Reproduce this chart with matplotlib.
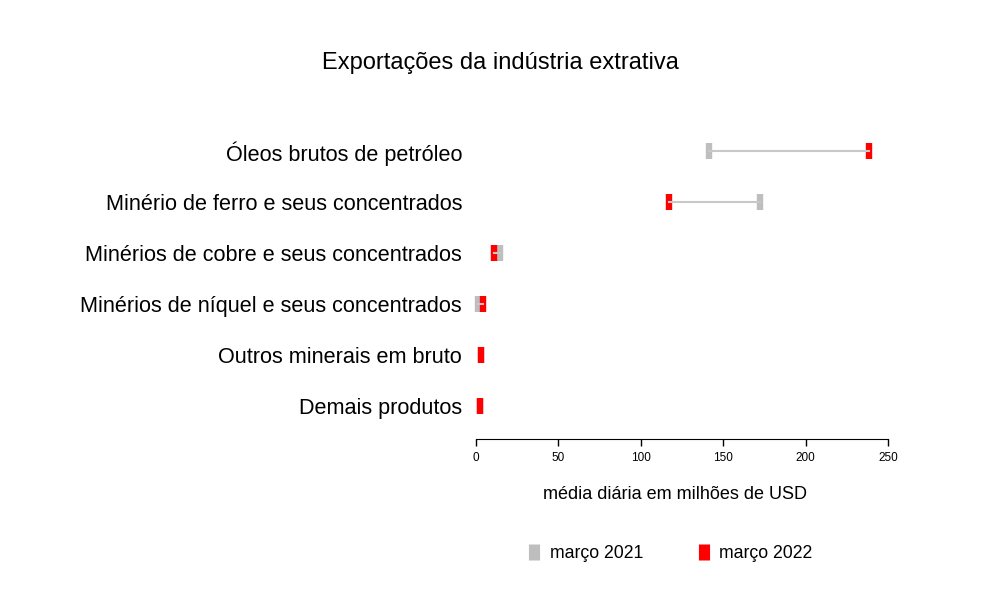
import numpy as np
import matplotlib.pyplot as plt
from matplotlib.lines import Line2D

plt.rcParams['font.family'] = ['Liberation Sans', 'DejaVu Sans']

# produtos, de cima para baixo
produtos = ['Óleos brutos de petróleo',
            'Minério de ferro e seus concentrados',
            'Minérios de cobre e seus concentrados',
            'Minérios de níquel e seus concentrados',
            'Outros minerais em bruto',
            'Demais produtos']
# média diária em milhões de USD
mar_2021 = [141.5, 172.5, 14.5, 1.3, 2.8, 2.5]
mar_2022 = [238.5, 117.0, 11.0, 4.4, 2.8, 2.5]
xticks = [0, 50, 100, 150, 200, 250]

cor_2021 = '#BEBEBE'
cor_2022 = '#FF0000'

fig = plt.figure(figsize=(10, 6), dpi=100)
ax = fig.add_axes([0.476, 0.2683, 0.412, 0.531])

y = np.arange(len(produtos), 0, -1)

ax.plot(mar_2021, y, linestyle='none', marker='|', markersize=11.5,
        markeredgewidth=4.6, color=cor_2021, clip_on=False, zorder=2)
ax.plot(mar_2022, y, linestyle='none', marker='|', markersize=11.5,
        markeredgewidth=4.6, color=cor_2022, clip_on=False, zorder=3)
for a, b, yy in zip(mar_2021, mar_2022, y):
    ax.plot([a, b], [yy, yy], color='#C8C8C8', lw=1.5,
            solid_capstyle='projecting', clip_on=False, zorder=4)

ax.set_xlim(0, 250)
ax.set_ylim(0.353, 6.6)
ax.set_xticks(xticks)
ax.set_xticklabels([str(t) for t in xticks], fontsize=8.5)
ax.set_yticks(y)
ax.set_yticklabels(produtos, fontsize=15.6)
ax.tick_params(axis='y', length=0, pad=10)
ax.tick_params(axis='x', length=5, width=1, pad=4, direction='out')
for s in ['top', 'right', 'left']:
    ax.spines[s].set_visible(False)
ax.spines['bottom'].set_bounds(0, 250)
ax.set_xlabel('média diária em milhões de USD', fontsize=13)
ax.xaxis.set_label_coords(0.484, -0.148)

fig.text(0.5, 0.895, 'Exportações da indústria extrativa', ha='center',
         va='center', fontsize=17)

handles = [Line2D([], [], linestyle='none', marker='|', markersize=12,
                  markeredgewidth=8, color=cor_2021),
           Line2D([], [], linestyle='none', marker='|', markersize=12,
                  markeredgewidth=8, color=cor_2022)]
fig.legend(handles, ['março 2021', 'março 2022'], ncol=2, frameon=False,
           loc='center', bbox_to_anchor=(0.67, 0.077), fontsize=12.7,
           handlelength=0.8, handletextpad=0.5, columnspacing=3.0)

fig.savefig('out.png', dpi=100)
